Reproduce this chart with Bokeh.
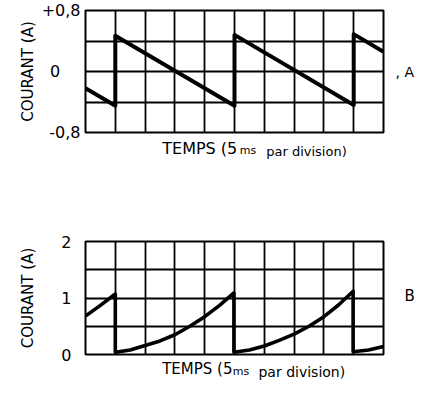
from bokeh.plotting import figure
from bokeh.layouts import column
from bokeh.models import Range1d, FixedTicker, Grid, LinearAxis
from bokeh.embed import file_html
from bokeh.resources import INLINE

# ---- data ----
# A : courant en dents de scie (A), temps en ms
temps_a = [0, 5, 5, 25, 25, 45, 45, 50]
courant_a = [-0.22, -0.45, 0.47, -0.45, 0.48, -0.44, 0.49, 0.26]

# B : courant (A), temps en ms
temps_b = [0, 2.5, 5, 5, 7.5, 10, 12.5, 15, 17.5, 20, 22.5, 24.9,
           24.9, 27.5, 30, 32.5, 35, 37.5, 40, 42.5, 44.9, 44.9, 47.5, 50]
courant_b = [0.68, 0.87, 1.07, 0.04, 0.08, 0.16, 0.24, 0.35, 0.50, 0.67, 0.87, 1.09,
             0.04, 0.08, 0.15, 0.25, 0.36, 0.50, 0.67, 0.88, 1.12, 0.05, 0.08, 0.14]

grille_temps = [0, 5, 10, 15, 20, 25, 30, 35, 40, 45, 50]
grille_a = [-0.8, -0.4, 0, 0.4, 0.8]
ticks_a = [-0.8, 0, 0.8]
labels_a = ["-0,8", "0\u00a0\u00a0\u00a0\u00a0", "+0,8"]
grille_b = [0, 0.5, 1, 1.5, 2]
ticks_b = [0, 1, 2]
labels_b = ["0", "1", "2"]
titre_temps = ["TEMPS (5", "ms", "par division)"]
titre_courant = "COURANT (A)"
repere_a = ", A"
repere_b = "B"

FONT = "DejaVu Sans"


def panel(height, y0, y1, border_top, border_bottom, gy, ticks, labels):
    p = figure(width=417, height=height,
               x_range=Range1d(0, 50), y_range=Range1d(y0, y1),
               x_axis_location=None, toolbar_location=None, output_backend="svg",
               min_border_left=85, min_border_right=32,
               min_border_top=border_top, min_border_bottom=border_bottom)
    p.ygrid.visible = False
    p.outline_line_color = "black"
    p.outline_line_width = 2
    p.background_fill_color = "white"
    p.border_fill_color = "white"
    p.add_layout(Grid(dimension=0, ticker=FixedTicker(ticks=grille_temps),
                      grid_line_color="black", grid_line_width=1.8))
    p.add_layout(Grid(dimension=1, ticker=FixedTicker(ticks=gy),
                      grid_line_color="black", grid_line_width=1.8))
    ax = p.yaxis[0]
    ax.ticker = FixedTicker(ticks=ticks)
    ax.major_label_overrides = {t: s for t, s in zip(ticks, labels)}
    ax.axis_line_color = None
    ax.major_tick_line_color = None
    ax.minor_tick_line_color = None
    ax.major_tick_out = 0
    ax.major_tick_in = 0
    ax.major_label_text_font = FONT
    ax.major_label_text_font_size = "16px"
    ax.major_label_text_color = "black"
    ax.axis_label = titre_courant
    ax.axis_label_text_font = FONT
    ax.axis_label_text_font_size = "15px"
    ax.axis_label_text_font_style = "normal"
    ax.axis_label_text_color = "black"
    return p


def text_axis(p, pos, txt, size, standoff, side):
    ax = LinearAxis(ticker=FixedTicker(ticks=[pos]), major_label_overrides={pos: txt},
                    axis_line_color=None, major_tick_line_color=None,
                    minor_tick_line_color=None, major_tick_out=0, major_tick_in=0,
                    major_label_standoff=standoff, major_label_text_font=FONT,
                    major_label_text_font_size=size, major_label_text_color="black")
    p.add_layout(ax, side)


# ---------- A ----------
pa = panel(200, -0.8, 0.8, 10, 68, grille_a, ticks_a, labels_a)
pa.yaxis[0].major_label_standoff = 5
pa.yaxis[0].axis_label_standoff = 2
pa.line(temps_a, courant_a, line_width=4, line_color="black", line_join="round")
text_axis(pa, 19.17, titre_temps[0], "16px", 6, "below")
text_axis(pa, 37.08, titre_temps[2], "13px", -17, "below")
text_axis(pa, 27.25, titre_temps[1], "11px", -18, "below")
text_axis(pa, 0.0, repere_a, "14px", 12, "right")

# ---------- B ----------
pb = panel(182, 0, 2, 41, 23, grille_b, ticks_b, labels_b)
pb.yaxis[0].major_label_standoff = 14
pb.yaxis[0].axis_label_standoff = 21
pb.line(temps_b, courant_b, line_width=3.6, line_color="black", line_join="round")
text_axis(pb, 18.77, titre_temps[0], "15px", 5, "below")
text_axis(pb, 36.3, titre_temps[2], "14px", -17, "below")
text_axis(pb, 26.08, titre_temps[1], "11px", -18, "below")
text_axis(pb, 1.04, repere_b, "15px", 21, "right")

layout = column(pa, pb, spacing=0)
open("out.html", "w").write(file_html(layout, INLINE))
